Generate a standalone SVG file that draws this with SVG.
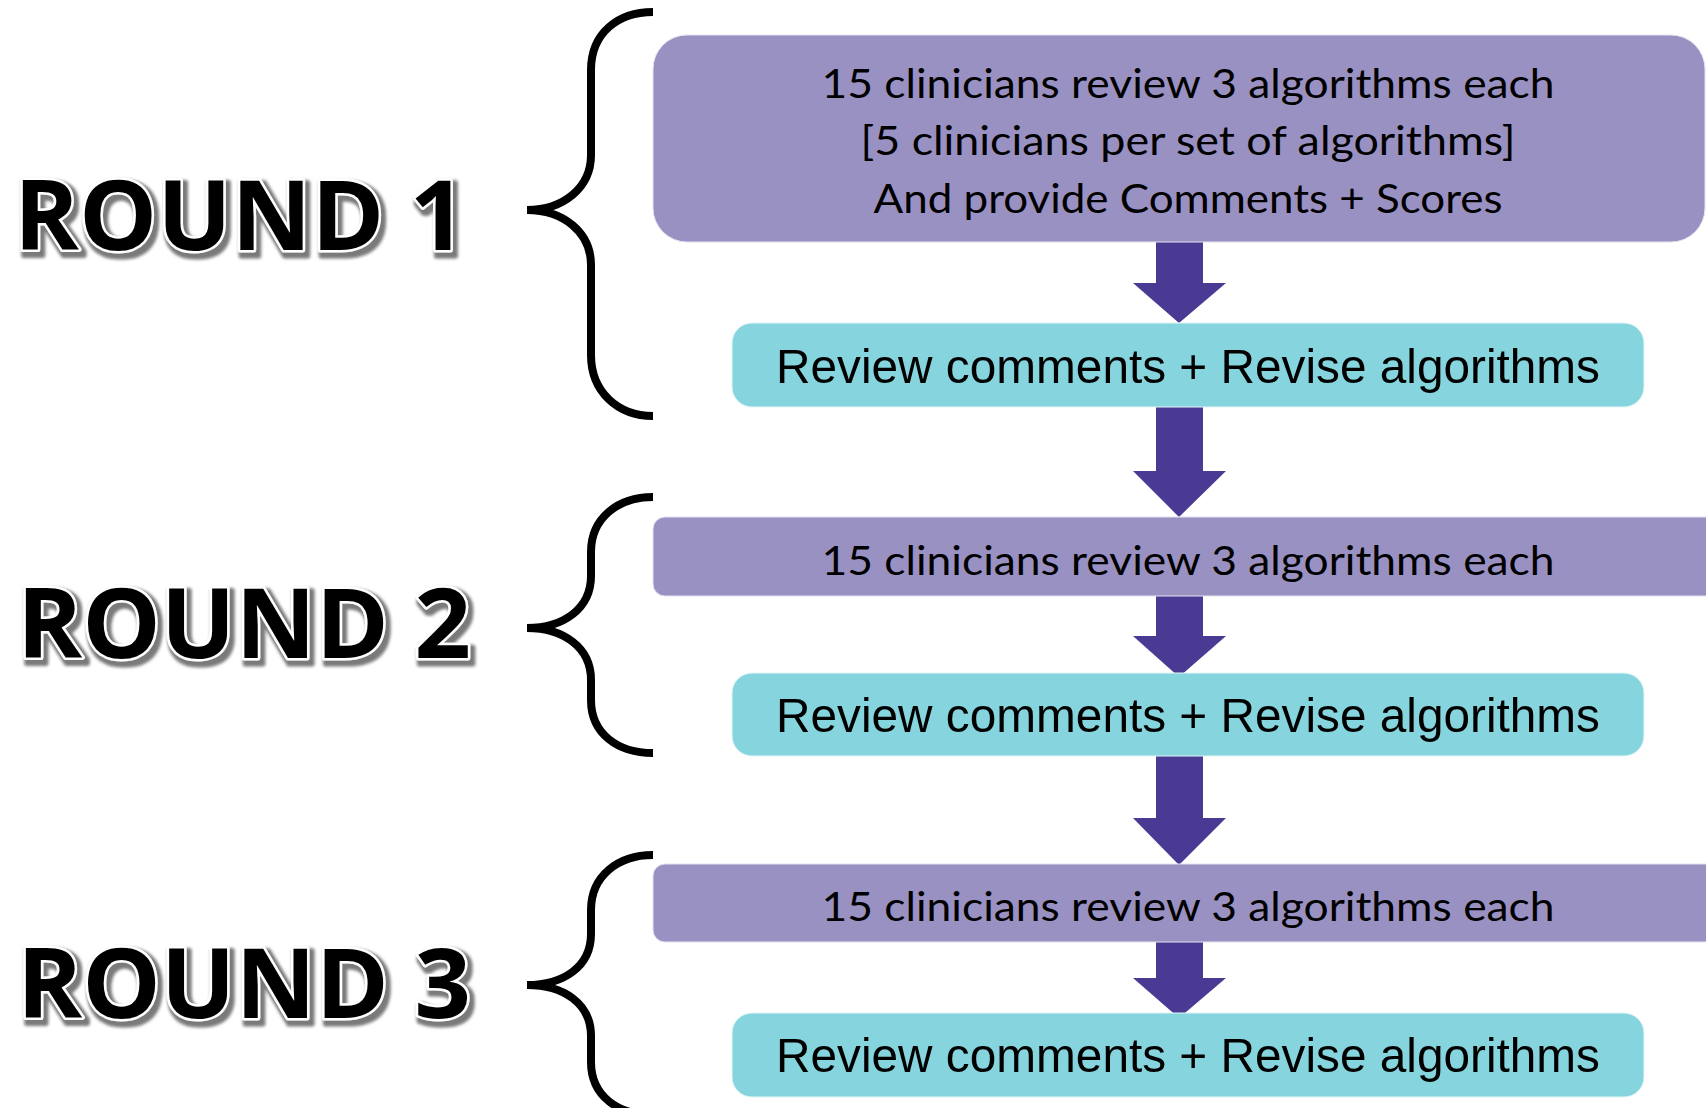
<svg xmlns="http://www.w3.org/2000/svg" width="1706" height="1108" viewBox="0 0 1706 1108">
  <defs>
    <style>
      .round { font-family: "Open Sans", "Liberation Sans", sans-serif; font-weight: 700; font-size: 96px; fill: #000; stroke: #fff; stroke-width: 5; paint-order: stroke; stroke-linejoin: round; }
      .brace { fill: none; stroke: #000; stroke-width: 8; }
      .pbox { fill: #9A91C3; stroke: #e4e1f0; stroke-width: 1; }
      .cbox { fill: #86D5DE; stroke: #e2f5f7; stroke-width: 1; }
      .ptxt { font-family: Lato, "Open Sans", sans-serif; font-size: 40px; fill: #000; text-anchor: middle; }
      .ctxt { font-family: "Liberation Sans", Arial, sans-serif; font-size: 49px; fill: #000; text-anchor: middle; }
      .arrow { fill: #4B3A93; }
    </style>
    <filter id="sh" x="-5%" y="-20%" width="115%" height="150%">
      <feMorphology in="SourceAlpha" operator="dilate" radius="1.5" result="d"/>
      <feOffset in="d" dx="3" dy="4" result="o"/>
      <feGaussianBlur in="o" stdDeviation="1.5" result="b"/>
      <feFlood flood-color="#7a7a7a"/>
      <feComposite in2="b" operator="in" result="s"/>
      <feMerge><feMergeNode in="s"/><feMergeNode in="SourceGraphic"/></feMerge>
    </filter>
  </defs>
  <rect width="1706" height="1108" fill="#fff"/>

  <g id="labels">
    <text id="round1" class="round" x="14" y="250" textLength="452" lengthAdjust="spacingAndGlyphs" filter="url(#sh)">ROUND 1</text>
    <text id="round2" class="round" x="17" y="658" textLength="454" lengthAdjust="spacingAndGlyphs" filter="url(#sh)">ROUND 2</text>
    <text id="round3" class="round" x="17" y="1018" textLength="454" lengthAdjust="spacingAndGlyphs" filter="url(#sh)">ROUND 3</text>
  </g>

  <g id="braces">
    <path id="brace1" class="brace" d="M653 12 C618 12 591 33 591 70 L591 155 C591 188 563 210 527 210 C563 210 591 232 591 265 L591 355 C591 392 618 416 653 416"/>
    <path id="brace2" class="brace" d="M653 497 C618 497 591 518 591 552 L591 576 C591 609 563 628 527 628 C563 628 591 647 591 680 L591 700 C591 734 618 753 653 753"/>
    <path id="brace3" class="brace" d="M653 855 C618 855 591 876 591 910 L591 934 C591 967 563 985 527 985 C563 985 591 1003 591 1036 L591 1062 C591 1096 618 1115 653 1115"/>
  </g>

  <g id="connectors">
    <polygon class="arrow" points="1156,241 1203,241 1203,283 1226,283 1179,323 1133,283 1156,283"/>
    <polygon class="arrow" points="1156,406 1203,406 1203,471 1226,471 1179,517 1133,471 1156,471"/>
    <polygon class="arrow" points="1156,595 1203,595 1203,636 1226,636 1179,677 1133,636 1156,636"/>
    <polygon class="arrow" points="1156,755 1203,755 1203,818 1226,818 1179,865 1133,818 1156,818"/>
    <polygon class="arrow" points="1156,938 1203,938 1203,978 1226,978 1179,1018 1133,978 1156,978"/>
  </g>

  <g id="node-r1-review">
    <rect class="pbox" x="653" y="35" width="1052" height="207" rx="34" ry="34"/>
    <text class="ptxt" x="1188" y="98" textLength="733" lengthAdjust="spacingAndGlyphs">15 clinicians review 3 algorithms each</text>
    <text class="ptxt" x="1188" y="155" textLength="655" lengthAdjust="spacingAndGlyphs">[5 clinicians per set of algorithms]</text>
    <text class="ptxt" x="1188" y="213" textLength="629" lengthAdjust="spacingAndGlyphs">And provide Comments + Scores</text>
  </g>

  <g id="node-r1-revise">
    <rect class="cbox" x="732" y="323" width="912" height="84" rx="20" ry="20"/>
    <text class="ctxt" x="1188" y="383" textLength="824" lengthAdjust="spacingAndGlyphs">Review comments + Revise algorithms</text>
  </g>

  <g id="node-r2-review">
    <rect class="pbox" x="653" y="517" width="1070" height="79" rx="12" ry="12"/>
    <text class="ptxt" x="1188" y="575" textLength="733" lengthAdjust="spacingAndGlyphs">15 clinicians review 3 algorithms each</text>
  </g>

  <g id="node-r2-revise">
    <rect class="cbox" x="732" y="673" width="912" height="83" rx="20" ry="20"/>
    <text class="ctxt" x="1188" y="732" textLength="824" lengthAdjust="spacingAndGlyphs">Review comments + Revise algorithms</text>
  </g>

  <g id="node-r3-review">
    <rect class="pbox" x="653" y="864" width="1070" height="78" rx="12" ry="12"/>
    <text class="ptxt" x="1188" y="921" textLength="733" lengthAdjust="spacingAndGlyphs">15 clinicians review 3 algorithms each</text>
  </g>

  <g id="node-r3-revise">
    <rect class="cbox" x="732" y="1013" width="912" height="84" rx="20" ry="20"/>
    <text class="ctxt" x="1188" y="1072" textLength="824" lengthAdjust="spacingAndGlyphs">Review comments + Revise algorithms</text>
  </g>
</svg>
